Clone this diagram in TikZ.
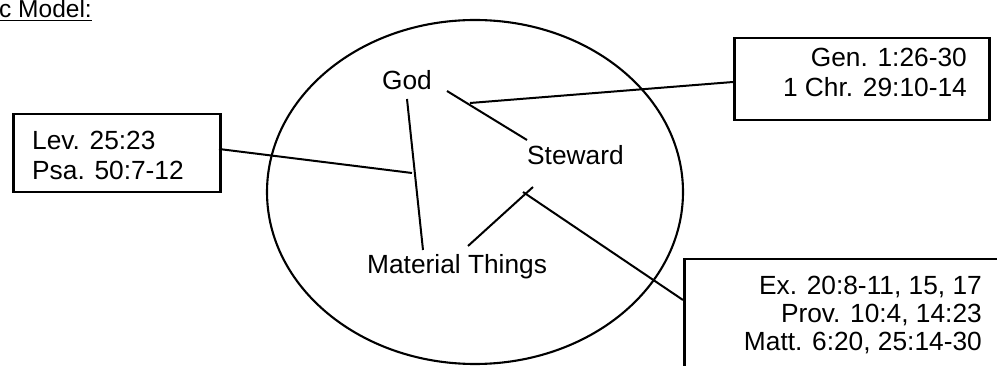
\documentclass[tikz,border=0pt]{standalone}
\usepackage{fontspec}
\setmainfont{Liberation Sans}
\begin{document}
\begin{tikzpicture}[x=1pt,y=-1pt,
  txt/.style={inner sep=0pt, font=\fontsize{26.3pt}{29pt}\selectfont},
  box/.style={draw, line width=2.5pt, inner sep=0pt, anchor=north west},
  conn/.style={line width=2pt}]
\useasboundingbox (0,0) rectangle (997,366);
\clip (0,0) rectangle (997,366);
% title
\node[txt, font=\fontsize{24.5pt}{29pt}\selectfont, anchor=base west] (title) at (-1,17.5) {c Model:};
\draw[line width=1.9pt] ([yshift=-3pt]title.base west) -- ([yshift=-3pt]title.base east);
% ellipse
\draw[line width=2.1pt] (475,192) ellipse [x radius=208, y radius=172];
% labels inside
\node[txt, anchor=base] (god) at (407,90) {God};
\node[txt, anchor=base west] (stew) at (527,165) {Steward};
\node[txt, anchor=base west] (mat) at (367,274) {Material Things};
% boxes
\node[box, minimum width=255pt, minimum height=82pt] (gen) at (733,37) {};
\node[txt, anchor=base east] (gen1) at (967,67) {Gen. 1:26-30};
\node[txt, anchor=base east] (gen2) at (967,97) {1 Chr. 29:10-14};
\node[box, minimum width=207pt, minimum height=78pt] (lev) at (12,113) {};
\node[txt, anchor=base west] (lev1) at (32,150) {Lev. 25:23};
\node[txt, anchor=base west] (lev2) at (32,180) {Psa. 50:7-12};
\node[box, minimum width=330pt, minimum height=130pt] (ex) at (683,258) {};
\node[txt, anchor=base east] (ex1) at (982,295) {Ex. 20:8-11, 15, 17};
\node[txt, anchor=base east] (ex2) at (982,323) {Prov. 10:4, 14:23};
\node[txt, anchor=base east] (ex3) at (982,351) {Matt. 6:20, 25:14-30};
% connector end points
\coordinate (gA) at (447,91);
\coordinate (sA) at (527,140);
\coordinate (gB) at (407,99);
\coordinate (mB) at (423,250);
\coordinate (sC) at (533,187);
\coordinate (mC) at (468,246);
\coordinate (genP) at (470,103);
\coordinate (genE) at (733,82);
\coordinate (levP) at (412,173);
\coordinate (levE) at (219,149);
\coordinate (exP) at (523,192);
\coordinate (exE) at (683,300);
% connectors
\draw[conn] (gA) -- (sA);
\draw[conn] (gB) -- (mB);
\draw[conn] (sC) -- (mC);
\draw[conn] (genP) -- (genE);
\draw[conn] (levP) -- (levE);
\draw[conn] (exP) -- (exE);
\end{tikzpicture}
\end{document}
